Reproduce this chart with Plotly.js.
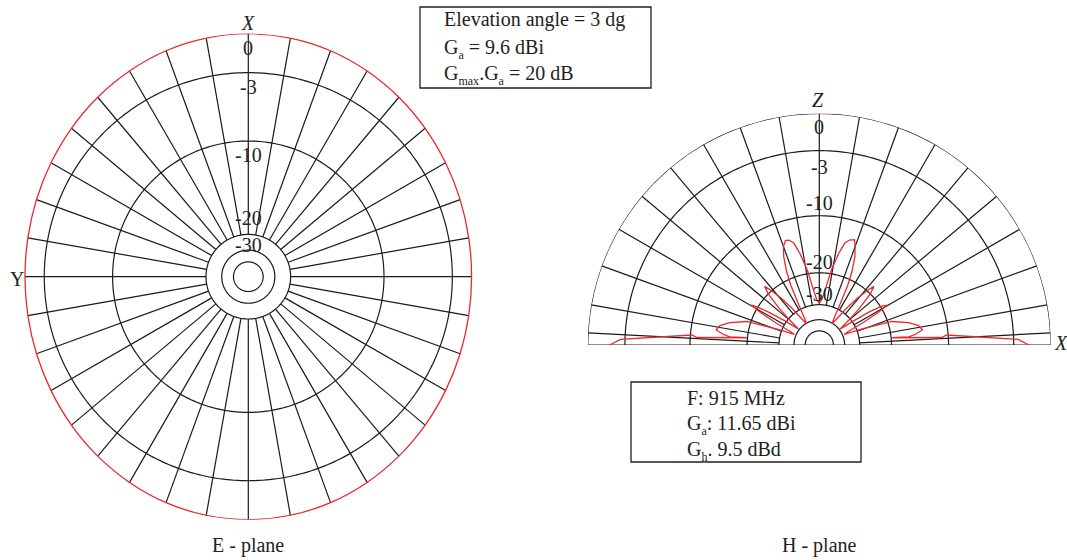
<!DOCTYPE html>
<html><head><meta charset="utf-8">
<script src="https://cdn.plot.ly/plotly-3.0.1.min.js"></script>
<style>html,body{margin:0;padding:0;background:#fff;}#chart{width:1067px;height:560px;}</style>
</head><body><div id="chart"></div>
<script>
// ---------------- DATA ----------------
// E-plane (left): angle from X axis (deg) and relative gain (dB)
const eTheta = [0,10,20,30,40,50,60,70,80,90,100,110,120,130,140,150,160,170,180,
                190,200,210,220,230,240,250,260,270,280,290,300,310,320,330,340,350,360];
const eGain  = [0,-0.05,-0.18,-0.39,-0.63,-0.88,-1.11,-1.29,-1.41,-1.45,-1.41,-1.29,-1.11,-0.88,-0.63,-0.39,-0.18,-0.05,0,
                -0.05,-0.18,-0.39,-0.63,-0.88,-1.11,-1.29,-1.41,-1.45,-1.41,-1.29,-1.11,-0.88,-0.63,-0.39,-0.18,-0.05,0];
const eRings = [-3,-10,-30,-38,-48];
const eTickVals = [0,-3,-10,-20,-30];
const eTickText = ['0','-3','-10','-20','-30'];

// H-plane (right): angle from X axis (deg, towards Z) and relative gain (dB)
const hTheta = [0,1.6,4.5,3.5,5.7,5.2,6.5,8.3,11,14,18,20.5,23,
                25,27,29,30.5,32,33.5,35,37.5,
                40,42.5,45,47,48.5,51,53.5,56,
                59,61,63,64.5,66,68,70,71.5,74,76,78,81,84,87,90,
                93,96,99,102,104,106,108,110,112,114,115.5,117,119,121,
                124,126.5,129,131.5,133,135,137.5,140,142.5,
                145,147,148.5,149.5,151,153,155,157,
                159.5,162,166,169,171.7,173.5,174.8,174.3,176.5,175.5,178.4,180];
const hGain  = [-1.7,-2.6,-10.2,-10.9,-19.8,-16.2,-14.9,-13.7,-14.2,-15.8,-19.1,-28.1,-36.9,
                -34.0,-27.0,-21.0,-18.5,-19.8,-23.2,-29.3,-37.5,
                -31.0,-24.7,-20.0,-18.2,-19.8,-23.2,-28.1,-34.0,
                -38.2,-35.1,-28.1,-21.5,-18.2,-15.3,-13.6,-12.6,-12.9,-13.6,-15.5,-19.3,-24.7,-28.1,-29.3,
                -28.1,-24.7,-19.3,-15.5,-13.6,-12.9,-12.8,-13.6,-15.3,-18.2,-21.5,-28.1,-35.1,-38.2,
                -34.0,-28.1,-23.2,-19.8,-18.2,-20.0,-24.7,-31.0,-37.5,
                -29.3,-23.2,-19.8,-18.5,-21.0,-27.0,-34.0,-36.9,
                -28.1,-19.1,-15.8,-14.2,-13.7,-14.9,-16.2,-19.8,-10.9,-10.2,-2.6,-1.7];
const hRings = [0,-3,-10,-20,-30,-38,-48];
const hGridAngles = [3,10,20,30,40,50,60,70,80,90,100,110,120,130,140,150,160,170,177];
const hTickVals = [0,-3,-10,-20,-30];
const hTickText = ['0','-3','-10','-20','-30'];

const sub = s => '<span style="font-size:12px;baseline-shift:-5px">' + s + '</span>';
const eInfo = ['Elevation angle = 3 dg', 'G' + sub('a') + ' = 9.6 dBi', 'G' + sub('max') + '.G' + sub('a') + ' = 20 dB'];
const hInfo = ['F: 915 MHz', 'G' + sub('a') + ': 11.65 dBi', 'G' + sub('h') + '. 9.5 dBd'];
const eTitle = 'E - plane';
const hTitle = 'H - plane';

// ---------------- SCALE / LAYOUT ----------------
const W = 1067, H = 560;
const rad = db => Math.pow(0.89, -db / 2);   // ARRL log-periodic radial scale
const FONT = 'Liberation Serif, Times New Roman, serif';
const INK = '#231f20', GRID = '#1a1a1a', RED = 'rgb(234,40,46)';
const L = {cx: 248.3, cy: 276.7, R: 243};
const Rt = {cx: 819.3, cy: 345, R: 231.5};
const px = x => x / W, py = y => 1 - y / H;

const traces = [];
function ring(subplot, v, t0, t1) {
  const th = [], r = [];
  for (let t = t0; t <= t1; t += 1) { th.push(t); r.push(rad(v)); }
  traces.push({type:'scatterpolar', subplot:subplot, mode:'lines', theta:th, r:r,
    line:{color:GRID, width:1.2}, cliponaxis:false, hoverinfo:'skip'});
}
eRings.forEach(v => ring('polar', v, 0, 360));
hRings.forEach(v => ring('polar2', v, 0, 180));

// E-plane spokes: from -30 dB ring out to the pattern
{
  const th = [], r = [];
  for (let i = 0; i < eTheta.length - 1; i++) {
    th.push(eTheta[i], eTheta[i], null);
    r.push(rad(-30), rad(eGain[i]), null);
  }
  traces.push({type:'scatterpolar', subplot:'polar', mode:'lines', theta:th, r:r,
    line:{color:GRID, width:1.2}, cliponaxis:false, connectgaps:false, hoverinfo:'skip'});
}
// H-plane spokes + baseline
{
  const th = [0, 0, 180, null], r = [1, 0, 1, null];
  hGridAngles.forEach(a => { th.push(a, a, null); r.push(rad(-30), 1, null); });
  traces.push({type:'scatterpolar', subplot:'polar2', mode:'lines', theta:th, r:r,
    line:{color:GRID, width:1.2}, cliponaxis:false, connectgaps:false, hoverinfo:'skip'});
}
// patterns
traces.push({type:'scatterpolar', subplot:'polar', mode:'lines', theta:eTheta, r:eGain.map(rad),
  line:{color:RED, width:1.3, shape:'spline'}, cliponaxis:false, hoverinfo:'skip'});
traces.push({type:'scatterpolar', subplot:'polar2', mode:'lines', theta:hTheta, r:hGain.map(rad),
  line:{color:RED, width:1.3}, cliponaxis:false, hoverinfo:'skip'});

const rAxis = {range:[0,1], visible:false, showticklabels:false, ticks:'', showgrid:false, showline:false};
const aAxis = o => Object.assign({visible:false, showticklabels:false, ticks:'', showgrid:false, showline:false}, o);
const layout = {
  width:W, height:H, margin:{l:0,r:0,t:0,b:0}, paper_bgcolor:'#fff', showlegend:false,
  polar:{domain:{x:[px(L.cx-L.R), px(L.cx+L.R)], y:[py(L.cy+L.R), py(L.cy-L.R)]},
    bgcolor:'rgba(0,0,0,0)', radialaxis:rAxis,
    angularaxis:aAxis({rotation:90, direction:'counterclockwise'})},
  polar2:{domain:{x:[px(Rt.cx-Rt.R), px(Rt.cx+Rt.R)], y:[py(Rt.cy), py(Rt.cy-Rt.R)]},
    sector:[0,180], bgcolor:'rgba(0,0,0,0)', radialaxis:rAxis,
    angularaxis:aAxis({rotation:0, direction:'counterclockwise'})},
  shapes:[
    {type:'rect', xref:'paper', yref:'paper', x0:px(420), x1:px(651), y0:py(88), y1:py(7), line:{color:INK, width:1.3}},
    {type:'rect', xref:'paper', yref:'paper', x0:px(631), x1:px(861), y0:py(462), y1:py(382), line:{color:INK, width:1.3}}
  ],
  annotations:[]
};
const ann = (x, y, text, opts) => layout.annotations.push(Object.assign({
  xref:'paper', yref:'paper', x:px(x), y:py(y), text:text, showarrow:false, borderpad:0,
  xanchor:'center', yanchor:'middle', font:{family:FONT, size:20, color:INK}}, opts || {}));

// radial tick labels along the vertical axis (placed from the radial scale)
const eOff = [-14,-14.3,-13.9,-17,-10.6];
const hOff = [-13.8,-16,12.5,11.1,10.7];
eTickVals.forEach((v, i) => ann(L.cx, L.cy - (rad(v) * L.R + eOff[i]), eTickText[i]));
hTickVals.forEach((v, i) => ann(Rt.cx, Rt.cy - (rad(v) * Rt.R + hOff[i]), hTickText[i]));

ann(L.cx, L.cy - 254, '<i>X</i>');
ann(L.cx - 231.6, L.cy + 2.3, 'Y');
ann(Rt.cx - 1, Rt.cy - 245, '<i>Z</i>');
ann(Rt.cx + 241.7, Rt.cy - 1.7, '<i>X</i>');
ann(L.cx, 545, eTitle);
ann(Rt.cx, 545, hTitle);
const asc = 17.8;
[25, 52.7, 78.5].forEach((b, i) => ann(443, b - asc, eInfo[i], {xanchor:'left', yanchor:'top'}));
[403.3, 429, 455].forEach((b, i) => ann(686, b - asc, hInfo[i], {xanchor:'left', yanchor:'top'}));

Plotly.newPlot('chart', traces, layout, {staticPlot:true, displayModeBar:false});
</script></body></html>
